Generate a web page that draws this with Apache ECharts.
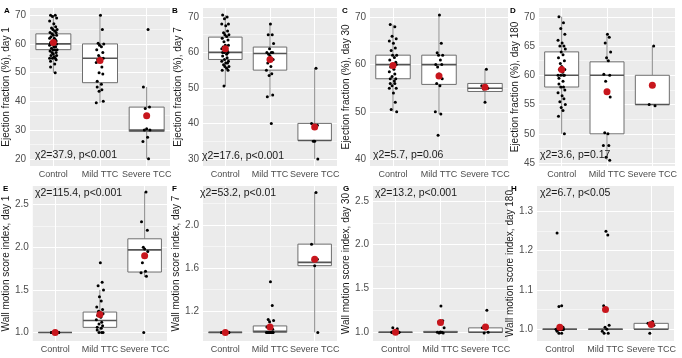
<!DOCTYPE html>
<html>
<head>
<meta charset="utf-8">
<script src="https://cdn.jsdelivr.net/npm/echarts@6/dist/echarts.min.js"></script>
<style>
  html, body { margin: 0; padding: 0; background: #fff; }
  #chart { width: 682px; height: 358px; }
</style>
</head>
<body>
<div id="chart"></div>
<script>
const groups = ['Control', 'Mild TTC', 'Severe TCC'];

// A: ejection fraction, day 1
const efDay1Control = [70, 70, 69.5, 69, 68, 67, 66, 65.5, 65, 65, 64.5, 64, 64, 63.5, 63, 63, 62.5, 62, 62, 61.5, 61, 61, 60.5, 60.5, 60, 60, 60, 60, 59.5, 59, 59, 58.5, 58, 58, 58, 57.5, 57, 57, 56.5, 56, 56, 55.5, 55, 55, 55, 54.5, 54, 53, 52, 50];
const efDay1Mild = [70, 65, 60.2, 60, 59.5, 59, 58, 57, 56, 55.2, 55, 54.5, 54, 53.5, 52, 50, 49.5, 47, 46, 45, 44, 43.5, 40, 39.5];
const efDay1Severe = [65, 45, 38, 37.5, 30.5, 30, 30, 27.5, 26, 20];
const efDay1Box = [[50, 58, 60, 63.5, 70], [39.5, 46.5, 55, 60, 70], [20, 29.5, 30, 38, 45]];
const efDay1Mean = [60.5, 54.2, 35];
const efDay1Ticks = ['20', '30', '40', '50', '60', '70'];
const efDay1Minor = [25, 35, 45, 55, 65];

// B: ejection fraction, day 7
const efDay7Control = [70.5, 70, 69.5, 68, 68, 67.5, 66, 65.5, 65, 65, 64.5, 64, 63.5, 63, 62, 62, 61.5, 61, 61, 60.5, 60, 60, 60, 59.5, 59, 58.5, 58, 57.5, 57.5, 57, 57, 56.5, 56, 56, 55.5, 55, 55, 50.5];
const efDay7Mild = [68, 65, 65, 62.5, 61, 60, 60, 60, 59.5, 59, 58, 57, 56, 55, 54, 53.5, 48, 47.5, 40];
const efDay7Severe = [55.5, 40, 39.5, 35, 35, 30];
const efDay7Box = [[50.5, 58, 60, 64.3, 70.5], [47.5, 55, 59.7, 61.5, 68], [30, 35.2, 35.2, 40, 55.5]];
const efDay7Mean = [61, 58, 39];
const efDay7Ticks = ['30', '40', '50', '60', '70'];
const efDay7Minor = [35, 45, 55, 65];

// C: ejection fraction, day 30
const efDay30Control = [68.5, 68, 66, 65.5, 65, 64.5, 63.5, 63, 62, 62, 61.5, 61, 60.5, 60, 60, 60, 59.5, 59, 58.5, 58, 57.5, 57, 57, 56.5, 56, 56, 55.5, 55, 55, 54, 52, 50.5, 50];
const efDay30Mild = [70.5, 64.5, 62.5, 62, 62, 61, 60, 60, 59.5, 58, 57, 56, 55.5, 50, 49.5, 45];
const efDay30Severe = [59, 55.5, 55, 54.8, 52];
const efDay30Box = [[50, 57, 60, 62, 68.5], [49.5, 55.8, 60, 62, 70.5], [52, 54.3, 55, 56, 59]];
const efDay30Mean = [59.8, 57.6, 55.2];
const efDay30Ticks = ['40', '50', '60', '70'];
const efDay30Minor = [45, 55, 65];

// D: ejection fraction, day 180
const efDay180Control = [70, 69, 68, 67, 66, 65.5, 65, 65, 64.5, 64, 63.5, 63, 62.5, 62, 61.5, 61, 61, 60.5, 60, 60, 60, 60, 59.5, 59, 58.5, 58, 58, 57.5, 57, 56.5, 56, 55.5, 55, 54.5, 54, 53, 50];
const efDay180Mild = [67, 66.5, 65.5, 64, 63, 62.5, 60.2, 60, 59, 57, 56.3, 50.2, 50, 48, 48, 46, 45.5];
const efDay180Severe = [65, 55, 54.8];
const efDay180Box = [[50, 58, 60, 64, 70], [45.5, 50, 60, 62.3, 67], [55, 55, 55, 60, 65]];
const efDay180Mean = [61, 57.2, 58.3];
const efDay180Ticks = ['45', '50', '55', '60', '65', '70'];
const efDay180Minor = [47.5, 52.5, 57.5, 62.5, 67.5];

// E: wall motion score index, day 1
const wmDay1Control = [1, 1, 1, 1, 1, 1, 1, 1, 1, 1, 1, 1, 1, 1, 1, 1, 1, 1, 1, 1, 1, 1, 1, 1, 1, 1, 1, 1, 1, 1];
const wmDay1Mild = [1.82, 1.59, 1.55, 1.5, 1.42, 1.37, 1.3, 1.27, 1.25, 1.24, 1.22, 1.2, 1.18, 1.15, 1.12, 1.1, 1.08, 1.06, 1.05, 1.03, 1.0, 1.0, 1.0];
const wmDay1Severe = [2.65, 2.3, 2.2, 2.0, 1.98, 1.95, 1.82, 1.72, 1.7, 1.66, 1.0];
const wmDay1Box = [[1, 1, 1, 1, 1], [1.0, 1.06, 1.14, 1.24, 1.5], [1.65, 1.71, 1.97, 2.1, 2.65]];
const wmDay1Mean = [1.0, 1.21, 1.9];
const wmDay1Ticks = ['1.0', '1.5', '2.0', '2.5'];
const wmDay1Minor = [1.25, 1.75, 2.25];

// F: wall motion score index, day 7
const wmDay7Control = [1, 1, 1, 1, 1, 1, 1, 1, 1, 1, 1, 1, 1, 1, 1, 1, 1, 1, 1, 1, 1, 1, 1, 1, 1, 1, 1, 1, 1, 1];
const wmDay7Mild = [1.47, 1.25, 1.12, 1.11, 1.1, 1.06, 1.05, 1.03, 1.0, 1.0, 1.0, 1.0, 1.0, 1.0, 1.0, 1.0, 1.0, 1.0];
const wmDay7Severe = [2.3, 1.82, 1.68, 1.67, 1.62, 1.0];
const wmDay7Box = [[1, 1, 1, 1, 1], [1.0, 1.0, 1.01, 1.06, 1.12], [1.0, 1.62, 1.65, 1.82, 2.3]];
const wmDay7Mean = [1.0, 1.05, 1.68];
const wmDay7Ticks = ['1.2', '1.6', '2.0'];
const wmDay7Minor = [1.0, 1.4, 1.8, 2.2];

// G: wall motion score index, day 30
const wmDay30Control = [1.05, 1.04, 1, 1, 1, 1, 1, 1, 1, 1, 1, 1, 1, 1, 1, 1, 1, 1, 1, 1, 1, 1, 1, 1, 1, 1, 1];
const wmDay30Mild = [1.3, 1.13, 1.12, 1.05, 1.0, 1.0, 1.0, 0.99, 0.99, 1.0];
const wmDay30Severe = [1.25, 1.05, 1.0, 0.99];
const wmDay30Box = [[1, 1, 1, 1, 1], [1.0, 1.0, 1.0, 1.01, 1.02], [1.0, 1.0, 1.0, 1.05, 1.05]];
const wmDay30Mean = [1.0, 1.11, 1.06];
const wmDay30Ticks = ['1.0', '1.5', '2.0', '2.5'];
const wmDay30Minor = [1.25, 1.75, 2.25];

// H: wall motion score index, day 180
const wmDay180Control = [1.245, 1.06, 1.058, 1.005, 1, 1, 1, 1, 1, 1, 1, 1, 1, 1, 1, 1, 1, 1, 1, 1, 1, 1, 1, 1, 0.995, 0.99, 0.99];
const wmDay180Mild = [1.25, 1.24, 1.06, 1.01, 1.005, 1.0, 0.995, 0.99, 0.99];
const wmDay180Severe = [1.02, 1.015, 1.01, 0.99];
const wmDay180Box = [[1, 1, 1, 1, 1], [1, 1, 1, 1, 1], [1.0, 1.0, 1.0, 1.015, 1.02]];
const wmDay180Mean = [1.005, 1.05, 1.012];
const wmDay180Ticks = ['1.0', '1.1', '1.2', '1.3'];
const wmDay180Minor = [1.05, 1.15, 1.25];

// horizontal jitter of the points (ggplot geom_jitter look)
const JITTER = [-0.06, 0.04, -0.02, 0.07, -0.08, 0.01, 0.05, -0.04, 0.08, -0.01, 0.03, -0.07, 0.06, -0.03, 0.0, 0.07, -0.05, 0.02, -0.08, 0.04, -0.02, 0.06, -0.06, 0.03];

const panels = [
  { letter: 'A', yName: 'Ejection fraction (%), day 1', stat: 'χ2=37.9, p<0.001',
    pts: [efDay1Control, efDay1Mild, efDay1Severe], box: efDay1Box, mean: efDay1Mean, ticks: efDay1Ticks, minor: efDay1Minor,
    min: 17.5, max: 72.5, step: 0.5, grid: [30, 8, 140, 158], gap: 17, letterPos: [4, 7], statPos: [35, 155] },
  { letter: 'B', yName: 'Ejection fraction (%), day 7', stat: 'χ2=17.6, p<0.001',
    pts: [efDay7Control, efDay7Mild, efDay7Severe], box: efDay7Box, mean: efDay7Mean, ticks: efDay7Ticks, minor: efDay7Minor,
    min: 28, max: 72.5, step: 0.5, grid: [203, 8, 134, 158], gap: 20, letterPos: [172, 7], statPos: [202, 156] },
  { letter: 'C', yName: 'Ejection fraction (%), day 30', stat: 'χ2=5.7, p=0.06',
    pts: [efDay30Control, efDay30Mild, efDay30Severe], box: efDay30Box, mean: efDay30Mean, ticks: efDay30Ticks, minor: efDay30Minor,
    min: 38.5, max: 72, step: 0.5, grid: [370, 8, 138, 158], gap: 16, letterPos: [342, 7], statPos: [373, 155] },
  { letter: 'D', yName: 'Ejection fraction (%), day 180', stat: 'χ2=3.6, p=0.17',
    pts: [efDay180Control, efDay180Mild, efDay180Severe], box: efDay180Box, mean: efDay180Mean, ticks: efDay180Ticks, minor: efDay180Minor,
    min: 44.5, max: 71.5, step: 0.5, grid: [539, 8, 136, 158], gap: 17, letterPos: [510, 7], statPos: [540, 155] },
  { letter: 'E', yName: 'Wall motion score index, day 1', stat: 'χ2=115.4, p<0.001',
    pts: [wmDay1Control, wmDay1Mild, wmDay1Severe], box: wmDay1Box, mean: wmDay1Mean, ticks: wmDay1Ticks, minor: wmDay1Minor,
    min: 0.9, max: 2.72, step: 0.05, grid: [29, 186, 138, 155], gap: 17, letterPos: [3, 185], statPos: [35, 193] },
  { letter: 'F', yName: 'Wall motion score index, day 7', stat: 'χ2=53.2, p<0.01',
    pts: [wmDay7Control, wmDay7Mild, wmDay7Severe], box: wmDay7Box, mean: wmDay7Mean, ticks: wmDay7Ticks, minor: wmDay7Minor,
    min: 0.92, max: 2.36, step: 0.02, grid: [203, 186, 134, 155], gap: 20, letterPos: [172, 185], statPos: [200, 193] },
  { letter: 'G', yName: 'Wall motion score index, day 30', stat: 'χ2=13.2, p<0.001',
    pts: [wmDay30Control, wmDay30Mild, wmDay30Severe], box: wmDay30Box, mean: wmDay30Mean, ticks: wmDay30Ticks, minor: wmDay30Minor,
    min: 0.9, max: 2.67, step: 0.05, grid: [373, 186, 135, 155], gap: 21, letterPos: [343, 185], statPos: [375, 193] },
  { letter: 'H', yName: 'Wall motion score index, day 180', stat: 'χ2=6.7, p<0.05',
    pts: [wmDay180Control, wmDay180Mild, wmDay180Severe], box: wmDay180Box, mean: wmDay180Mean, ticks: wmDay180Ticks, minor: wmDay180Minor,
    min: 0.97, max: 1.365, step: 0.005, grid: [537, 186, 137, 155], gap: 17, letterPos: [511, 185], statPos: [540, 193] }
];

const FONT = 'Liberation Sans, Arial, sans-serif';
const BG = '#ebebeb';
const NONE = 'rgba(0,0,0,0)';

// colour of each split line, ticks counted from min in steps of `step`
function splitColors(p) {
  const major = p.ticks.map(Number);
  const near = (v, list) => list.some(t => Math.abs(t - v) < p.step / 4);
  const out = [];
  let last = null;
  for (let i = 0; ; i++) {
    const v = +(p.min + i * p.step).toFixed(6);
    if (v > p.max + 1e-9) break;
    out.push(near(v, major) ? '#ffffff' : near(v, p.minor) ? '#f5f5f5' : NONE);
    last = v;
  }
  if (last < p.max - 1e-9) out.push(NONE);
  return out;
}

function renderBox(params, api) {
  const x = api.value(0);
  const lo = api.coord([x, api.value(1)]);
  const q1 = api.coord([x, api.value(2)]);
  const md = api.coord([x, api.value(3)]);
  const q3 = api.coord([x, api.value(4)]);
  const hi = api.coord([x, api.value(5)]);
  const half = api.size([0.75, 0])[0] / 2;
  return {
    type: 'group',
    children: [
      { type: 'line', shape: { x1: lo[0], y1: lo[1], x2: q1[0], y2: q1[1] }, style: { stroke: '#8a8a8a', lineWidth: 1 } },
      { type: 'line', shape: { x1: q3[0], y1: q3[1], x2: hi[0], y2: hi[1] }, style: { stroke: '#8a8a8a', lineWidth: 1 } },
      { type: 'rect', shape: { x: q3[0] - half, y: q3[1], width: half * 2, height: q1[1] - q3[1] }, style: { fill: '#ffffff', stroke: '#6e6e6e', lineWidth: 1 } },
      { type: 'line', shape: { x1: md[0] - half, y1: md[1], x2: md[0] + half, y2: md[1] }, style: { stroke: '#555555', lineWidth: 1.6 } }
    ]
  };
}

const grid = [], xAxis = [], yAxis = [], series = [], graphic = [];

panels.forEach((p, k) => {
  grid.push({ left: p.grid[0], top: p.grid[1], width: p.grid[2], height: p.grid[3],
    show: true, backgroundColor: BG, borderWidth: 0 });

  xAxis.push({
    type: 'value', gridIndex: k, min: 0.5, max: 3.5, interval: 0.5,
    axisLine: { show: false }, axisTick: { show: false },
    axisLabel: {
      margin: 4, color: '#4d4d4d', fontSize: 9, fontFamily: FONT,
      formatter: v => (Math.abs(v - Math.round(v)) < 1e-6 ? groups[Math.round(v) - 1] || '' : '')
    },
    splitLine: { show: true, showMinLine: true, showMaxLine: true,
      lineStyle: { color: [NONE, '#ffffff', NONE, '#ffffff', NONE, '#ffffff', NONE], width: 1 } }
  });

  const major = p.ticks.map(Number);
  yAxis.push({
    type: 'value', gridIndex: k, min: p.min, max: p.max, interval: p.step,
    name: p.yName, nameLocation: 'middle', nameGap: p.gap,
    nameTextStyle: { color: '#1a1a1a', fontSize: 10, fontFamily: FONT },
    axisLine: { show: false }, axisTick: { show: false },
    axisLabel: {
      margin: 4, color: '#4d4d4d', fontSize: 10, fontFamily: FONT,
      formatter: v => {
        const i = major.findIndex(t => Math.abs(t - v) < p.step / 4);
        return i >= 0 ? p.ticks[i] : '';
      }
    },
    splitLine: { show: true, showMinLine: true, showMaxLine: true,
      lineStyle: { color: splitColors(p), width: 1 } }
  });

  series.push({
    type: 'custom', xAxisIndex: k, yAxisIndex: k, z: 2,
    renderItem: renderBox,
    encode: { x: 0, y: [1, 2, 3, 4, 5] },
    data: p.box.map((b, g) => [g + 1].concat(b))
  });

  const dots = [];
  p.pts.forEach((vals, g) => {
    vals.forEach((y, i) => dots.push([g + 1 + JITTER[(i + g * 5) % JITTER.length], y]));
  });
  series.push({
    type: 'scatter', xAxisIndex: k, yAxisIndex: k, z: 3, silent: true,
    symbolSize: 3, itemStyle: { color: '#000000', opacity: 1 },
    data: dots
  });

  series.push({
    type: 'scatter', xAxisIndex: k, yAxisIndex: k, z: 4, silent: true,
    symbolSize: 7, itemStyle: { color: '#c8161d', opacity: 1 },
    data: p.mean.map((m, g) => [g + 1, m])
  });

  graphic.push({ type: 'text', left: p.letterPos[0], top: p.letterPos[1],
    style: { text: p.letter, font: 'bold 8px ' + FONT, fill: '#000' } });
  graphic.push({ type: 'text', x: p.statPos[0], y: p.statPos[1], z: 10,
    style: { text: p.stat, font: '10.5px ' + FONT, fill: '#1a1a1a', verticalAlign: 'middle' } });
});

const myChart = echarts.init(document.getElementById('chart'), null, { renderer: 'canvas' });
myChart.setOption({
  backgroundColor: '#ffffff',
  animation: false,
  grid: grid,
  xAxis: xAxis,
  yAxis: yAxis,
  series: series,
  graphic: graphic
});
</script>
</body>
</html>
